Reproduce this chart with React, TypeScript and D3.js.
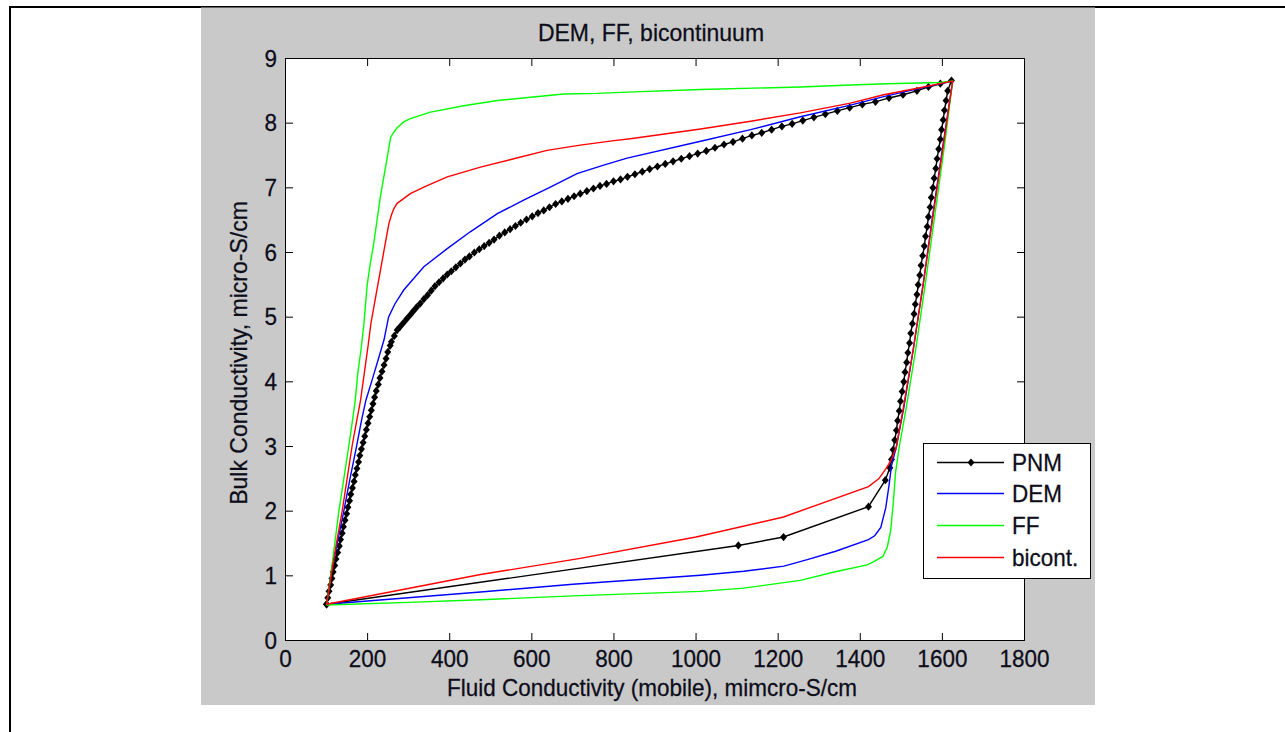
import React from "react";
import * as d3 from "d3";

// ---------- data ----------
const pnmX = [
  100, 103, 106, 110, 113, 116, 120, 123, 127, 131, 134, 138, 141, 145, 149, 152, 156, 159, 163, 167,
  170, 174, 178, 181, 185, 189, 193, 197, 201, 205, 209, 213, 217, 221, 226, 230, 235, 240, 245, 249, 255,
  258, 265, 272, 279, 287, 295, 303, 311, 319, 328, 337, 346, 355, 364, 374, 384, 394, 404, 415, 426,
  437, 448, 460, 472, 484, 496, 508, 521, 534, 547, 560, 573, 587, 601, 615, 629, 643, 658, 673, 688,
  703, 718, 734, 750, 766, 782, 799, 816, 833, 851, 869, 887, 906, 925, 944, 964, 984, 1004, 1025, 1046,
  1068, 1090, 1113, 1136, 1160, 1184, 1209, 1234, 1260, 1287, 1315, 1344, 1374, 1405, 1437, 1470, 1504,
  1538, 1566, 1595, 1622,
  1613, 1609, 1605, 1602, 1598, 1595, 1591, 1587, 1584, 1580, 1577, 1573, 1570, 1566, 1563, 1559, 1556,
  1552, 1548, 1545, 1541, 1538, 1534, 1531, 1527, 1523, 1520, 1516, 1513, 1509, 1506, 1502, 1498, 1495,
  1491, 1488, 1484, 1480, 1476, 1472,
  1461, 1420, 1213, 1103, 100,
];
const pnmY = [
  0.56, 0.66, 0.76, 0.86, 0.96, 1.06, 1.16, 1.26, 1.36, 1.46, 1.56, 1.66, 1.76, 1.86, 1.96, 2.06, 2.16, 2.26, 2.36, 2.46,
  2.56, 2.66, 2.76, 2.86, 2.96, 3.06, 3.16, 3.26, 3.36, 3.46, 3.56, 3.66, 3.76, 3.86, 3.96, 4.06, 4.16, 4.26, 4.36, 4.46, 4.56,
  4.62, 4.71, 4.8, 4.85, 4.91, 4.97, 5.03, 5.09, 5.15, 5.21, 5.28, 5.34, 5.41, 5.48, 5.54, 5.6, 5.66, 5.71, 5.77, 5.83,
  5.89, 5.94, 6.0, 6.05, 6.1, 6.15, 6.2, 6.26, 6.31, 6.36, 6.41, 6.46, 6.51, 6.56, 6.61, 6.65, 6.7, 6.75, 6.79, 6.83,
  6.87, 6.91, 6.95, 6.99, 7.03, 7.06, 7.1, 7.13, 7.17, 7.21, 7.25, 7.29, 7.33, 7.37, 7.41, 7.45, 7.49, 7.53, 7.57, 7.62,
  7.67, 7.71, 7.76, 7.81, 7.85, 7.9, 7.95, 7.99, 8.04, 8.09, 8.14, 8.19, 8.24, 8.29, 8.33, 8.39, 8.44,
  8.5, 8.56, 8.61, 8.66,
  8.5, 8.35, 8.2, 8.05, 7.9, 7.75, 7.6, 7.45, 7.3, 7.15, 7.0, 6.85, 6.7, 6.55, 6.4, 6.25, 6.1,
  5.95, 5.8, 5.65, 5.5, 5.35, 5.2, 5.05, 4.9, 4.75, 4.6, 4.45, 4.3, 4.15, 4.0, 3.85, 3.7, 3.55,
  3.4, 3.25, 3.1, 2.95, 2.8, 2.67,
  2.48, 2.07, 1.6, 1.47, 0.56,
];

const demX = [
  100, 110, 126, 142, 157, 173, 185, 196, 212, 226, 240, 251, 266, 288, 337, 394, 450, 516, 580, 645,
  710, 775, 832, 1011, 1133, 1254, 1376, 1457, 1539, 1625,
  1600, 1577, 1553, 1529, 1506, 1488, 1476, 1470, 1462, 1450, 1435, 1420,
  1340, 1271, 1214, 1116, 1011, 700, 475, 100,
];
const demY = [
  0.56, 1.0, 1.5, 2.0, 2.5, 3.0, 3.4, 3.72, 4.05, 4.35, 4.65, 5.0, 5.2, 5.42, 5.78, 6.06, 6.32, 6.6, 6.81, 7.01,
  7.22, 7.35, 7.46, 7.72, 7.9, 8.1, 8.28, 8.41, 8.53, 8.65,
  7.6, 6.6, 5.5, 4.5, 3.6, 3.0, 2.7, 2.4, 2.05, 1.75, 1.62, 1.56,
  1.38, 1.25, 1.15, 1.07, 1.01, 0.87, 0.75, 0.56,
];

const ffX = [
  100, 110, 120, 130, 142, 154, 162, 170, 176, 184, 191, 199, 207, 215, 231, 248, 256, 264, 272, 288,
  304, 353, 434, 516, 597, 678, 759, 832, 1011, 1254, 1376, 1465, 1595, 1625,
  1604, 1582, 1558, 1535, 1512, 1495, 1486, 1480, 1474, 1466, 1455, 1433, 1417,
  1336, 1254, 1116, 1011, 700, 475, 300, 100,
];
const ffY = [
  0.55, 1.0, 1.5, 2.0, 2.5, 3.0, 3.35, 3.72, 4.13, 4.5, 4.9, 5.5, 5.85, 6.14, 6.86, 7.48, 7.78, 7.86, 7.93, 8.02,
  8.07, 8.17, 8.27, 8.35, 8.4, 8.45, 8.46, 8.48, 8.52, 8.56, 8.59, 8.61, 8.63, 8.65,
  7.6, 6.6, 5.5, 4.5, 3.6, 3.0, 2.6, 2.1, 1.7, 1.45, 1.3, 1.22, 1.17,
  1.06, 0.93, 0.81, 0.76, 0.69, 0.63, 0.59, 0.55,
];

const bicX = [
  100, 111, 124, 138, 150, 162, 172, 183, 194, 201, 208, 224, 243, 252, 258, 264, 272, 304, 337, 394,
  475, 556, 637, 718, 800, 840, 1011, 1133, 1254, 1376, 1457, 1539, 1625,
  1601, 1578, 1553, 1529, 1505, 1488, 1476, 1464, 1445, 1420,
  1213, 1000, 718, 475, 100,
];
const bicY = [
  0.56, 1.0, 1.5, 2.0, 2.5, 3.0, 3.35, 3.72, 4.23, 4.55, 4.9, 5.47, 6.14, 6.45, 6.58, 6.68, 6.76, 6.91, 7.01, 7.17,
  7.32, 7.45, 7.58, 7.66, 7.73, 7.76, 7.91, 8.03, 8.16, 8.31, 8.44, 8.54, 8.65,
  7.6, 6.6, 5.5, 4.5, 3.6, 3.0, 2.8, 2.67, 2.5, 2.38,
  1.91, 1.6, 1.27, 1.02, 0.56,
];

const xTicks = [0, 200, 400, 600, 800, 1000, 1200, 1400, 1600, 1800];
const yTicks = [0, 1, 2, 3, 4, 5, 6, 7, 8, 9];
const legendNames = ["PNM", "DEM", "FF", "bicont."];
const legendColors = ["#000000", "#0000ff", "#00ff00", "#ff0000"];
const titleText = "DEM, FF, bicontinuum";
const xLabelText = "Fluid Conductivity (mobile), mimcro-S/cm";
const yLabelText = "Bulk Conductivity, micro-S/cm";

// ---------- component ----------
const FONT = "'Liberation Sans', Arial, Helvetica, sans-serif";
const TXT = "#0d0d1a";

function Txt(props: {
  x: number; y: number; anchor?: string; size?: number; rotate?: number; children: React.ReactNode;
}) {
  const { x, y, anchor = "start", size = 22.5, rotate = 0, children } = props;
  return (
    <text
      transform={`translate(${x},${y}) rotate(${rotate}) scale(1,1.06)`}
      textAnchor={anchor as any}
      fontSize={size}
      fontFamily={FONT}
      fill={TXT}
      stroke={TXT}
      strokeWidth={0.25}
    >
      {children}
    </text>
  );
}

const diamond = "M0,-4.1L3.5,0L0,4.1L-3.5,0Z";

export default function App() {
  const W = 1285;
  const H = 732;
  const x = d3.scaleLinear().domain([0, 1800]).range([285.5, 1024.5]);
  const y = d3.scaleLinear().domain([0, 9]).range([640.5, 58.5]);
  const line = d3
    .line<[number, number]>()
    .x((d) => x(d[0]))
    .y((d) => y(d[1]));
  const zip = (a: number[], b: number[]) => a.map((v, i) => [v, b[i]] as [number, number]);

  const pnm = zip(pnmX, pnmY);
  const dem = zip(demX, demY);
  const ff = zip(ffX, ffY);
  const bic = zip(bicX, bicY);

  const [x0, x1] = x.range();
  const [y0, y1] = y.range();
  const tl = 7.5;

  const legY = [462.5, 493.5, 525.5, 557.5];
  const sw = 1.4;

  return (
    <svg
      width={W}
      height={H}
      style={{ position: "absolute", left: 0, top: 0, display: "block", background: "#ffffff" }}
    >
      {/* outer frame */}
      <line x1={9} y1={7} x2={W} y2={7} stroke="#000" strokeWidth={2} />
      <line x1={10} y1={6} x2={10} y2={H} stroke="#000" strokeWidth={2} />
      {/* figure background */}
      <rect x={201} y={7.5} width={894} height={697.5} fill="#c9c9c9" />
      {/* axes area */}
      <rect x={x0} y={y1} width={x1 - x0} height={y0 - y1} fill="#ffffff" />

      {/* series */}
      <path d={line(pnm) || ""} fill="none" stroke="#000" strokeWidth={sw} />
      {pnm.map((d, i) => (
        <path key={"m" + i} d={diamond} transform={`translate(${x(d[0])},${y(d[1])})`} fill="#000" />
      ))}
      <path d={line(dem) || ""} fill="none" stroke="#0000ff" strokeWidth={sw} />
      <path d={line(ff) || ""} fill="none" stroke="#00ff00" strokeWidth={sw} />
      <path d={line(bic) || ""} fill="none" stroke="#ff0000" strokeWidth={sw} />

      {/* axes box */}
      <rect x={x0} y={y1} width={x1 - x0} height={y0 - y1} fill="none" stroke="#000" strokeWidth={1} />
      {xTicks.map((t) => (
        <g key={"xt" + t}>
          <line x1={x(t)} x2={x(t)} y1={y0} y2={y0 - tl} stroke="#000" />
          <line x1={x(t)} x2={x(t)} y1={y1} y2={y1 + tl} stroke="#000" />
          <Txt x={x(t)} y={667} anchor="middle">{String(t)}</Txt>
        </g>
      ))}
      {yTicks.map((t) => (
        <g key={"yt" + t}>
          <line x1={x0} x2={x0 + tl} y1={y(t)} y2={y(t)} stroke="#000" />
          <line x1={x1} x2={x1 - tl} y1={y(t)} y2={y(t)} stroke="#000" />
          <Txt x={277} y={y(t) + 8} anchor="end">{String(t)}</Txt>
        </g>
      ))}

      {/* title & labels */}
      <Txt x={651} y={41} anchor="middle" size={23}>{titleText}</Txt>
      <Txt x={652} y={696} anchor="middle">{xLabelText}</Txt>
      <Txt x={247} y={353} anchor="middle" rotate={-90} size={23}>{yLabelText}</Txt>

      {/* legend */}
      <rect x={923.5} y={443.5} width={167} height={135} fill="#fff" stroke="#000" strokeWidth={1} />
      {legendNames.map((n, i) => (
        <g key={"lg" + i}>
          <line x1={937} x2={1004} y1={legY[i]} y2={legY[i]} stroke={legendColors[i]} strokeWidth={1.3} />
          {i === 0 && <path d={diamond} transform={`translate(971,${legY[i]})`} fill="#000" />}
          <Txt x={1012} y={legY[i] + 8}>{n}</Txt>
        </g>
      ))}
    </svg>
  );
}
